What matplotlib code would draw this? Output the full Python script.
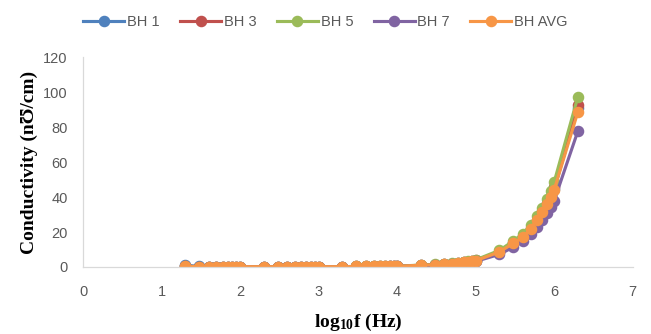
import matplotlib
matplotlib.use("Agg")
import matplotlib.pyplot as plt

# log10 of the measurement frequencies (20 Hz .. 2 MHz)
log_f = [1.301, 1.477, 1.602, 1.699, 1.778, 1.845, 1.903, 1.954, 2.000,
         2.301, 2.477, 2.602, 2.699, 2.778, 2.845, 2.903, 2.954, 3.000,
         3.301, 3.477, 3.602, 3.699, 3.778, 3.845, 3.903, 3.954, 4.000,
         4.301, 4.477, 4.602, 4.699, 4.778, 4.845, 4.903, 4.954, 5.000,
         5.301, 5.477, 5.602, 5.699, 5.778, 5.845, 5.903, 5.954, 6.000,
         6.301]

bh1 = [1.0, 0.3, 0.2, 0.2, 0.2, 0.2, 0.2, 0.2, 0.2,
       0.2, 0.2, 0.2, 0.2, 0.2, 0.2, 0.2, 0.2, 0.2,
       0.2, 0.3, 0.3, 0.3, 0.3, 0.3, 0.3, 0.4, 0.4,
       1.0, 1.3, 1.6, 2.0, 2.3, 2.7, 3.0, 3.3, 3.7,
       8.6, 13.5, 17.2, 21.8, 26.5, 31.3, 35.8, 40.0, 44.5,
       91.0]
bh3 = [0.4, 0.2, 0.2, 0.2, 0.2, 0.2, 0.2, 0.2, 0.2,
       0.2, 0.2, 0.2, 0.2, 0.2, 0.2, 0.2, 0.2, 0.2,
       0.2, 0.3, 0.3, 0.3, 0.3, 0.3, 0.3, 0.4, 0.4,
       1.0, 1.4, 1.7, 2.0, 2.3, 2.7, 3.0, 3.4, 3.8,
       8.8, 13.8, 17.5, 22.2, 27.0, 31.8, 36.5, 40.8, 45.5,
       92.6]
bh5 = [0.4, 0.2, 0.2, 0.2, 0.2, 0.2, 0.2, 0.2, 0.2,
       0.2, 0.2, 0.2, 0.2, 0.2, 0.2, 0.2, 0.2, 0.2,
       0.2, 0.3, 0.3, 0.3, 0.3, 0.3, 0.4, 0.4, 0.5,
       1.1, 1.5, 1.8, 2.2, 2.5, 2.9, 3.3, 3.7, 4.1,
       9.5, 14.8, 19.0, 24.0, 29.0, 34.0, 39.0, 43.5, 48.7,
       97.3]
bh7 = [0.4, 0.2, 0.2, 0.2, 0.2, 0.2, 0.2, 0.2, 0.2,
       0.2, 0.2, 0.2, 0.2, 0.2, 0.2, 0.2, 0.2, 0.2,
       0.2, 0.2, 0.2, 0.2, 0.2, 0.2, 0.3, 0.3, 0.3,
       0.8, 1.1, 1.3, 1.6, 1.9, 2.2, 2.5, 2.8, 3.2,
       7.2, 11.3, 14.8, 18.8, 22.8, 27.0, 31.0, 34.5, 38.0,
       77.7]
bh_avg = [0.4, 0.2, 0.2, 0.2, 0.2, 0.2, 0.2, 0.2, 0.2,
          0.2, 0.2, 0.2, 0.2, 0.2, 0.2, 0.2, 0.2, 0.2,
          0.2, 0.3, 0.3, 0.3, 0.3, 0.3, 0.3, 0.4, 0.4,
          1.0, 1.3, 1.6, 1.9, 2.2, 2.6, 2.9, 3.2, 3.6,
          8.6, 13.5, 17.2, 21.8, 26.8, 31.5, 36.0, 40.0, 44.2,
          88.7]

labels = ["BH 1", "BH 3", "BH 5", "BH 7", "BH AVG"]
colors = ["#4F81BD", "#C0504D", "#9BBB59", "#8064A2", "#F79646"]
series = [bh1, bh3, bh5, bh7, bh_avg]

plt.rcParams["mathtext.default"] = "regular"

fig = plt.figure(figsize=(6.51, 3.34), dpi=100)
ax = fig.add_axes([0.1275, 0.2006, 0.8445, 0.6284])

for y, lab, c in zip(series, labels, colors):
    ax.plot(log_f, y, color=c, lw=2.25, marker="o", ms=7.3, label=lab)

ax.set_xlim(0, 7)
ax.set_ylim(0, 120)
ax.set_xticks(range(0, 8))
ax.set_yticks(range(0, 121, 20))
ax.tick_params(length=0, labelsize=10.5, labelcolor="#595959")
ax.tick_params(axis="x", pad=13)
ax.tick_params(axis="y", pad=11)
for t in ax.get_xticklabels() + ax.get_yticklabels():
    t.set_family("Liberation Sans")
for s in ["top", "right"]:
    ax.spines[s].set_visible(False)
for s in ["left", "bottom"]:
    ax.spines[s].set_color("#D9D9D9")
    ax.spines[s].set_linewidth(0.9)

ax.set_xlabel("log$_{10}$f (Hz)", family=["Liberation Serif", "DejaVu Serif"],
              fontsize=14, fontweight="bold", labelpad=9)
ax.set_ylabel("Conductivity (n\u01b1/cm)", family=["Liberation Serif", "DejaVu Serif"],
              fontsize=14, fontweight="bold", labelpad=4)

leg = fig.legend(loc="upper center", bbox_to_anchor=(0.5, 0.995), ncol=5, frameon=False,
                 prop={"family": "Liberation Sans", "size": 10.5}, handlelength=2.8,
                 columnspacing=1.4, handletextpad=0.2)
for t in leg.get_texts():
    t.set_color("#595959")

fig.savefig("out.png", dpi=100)
